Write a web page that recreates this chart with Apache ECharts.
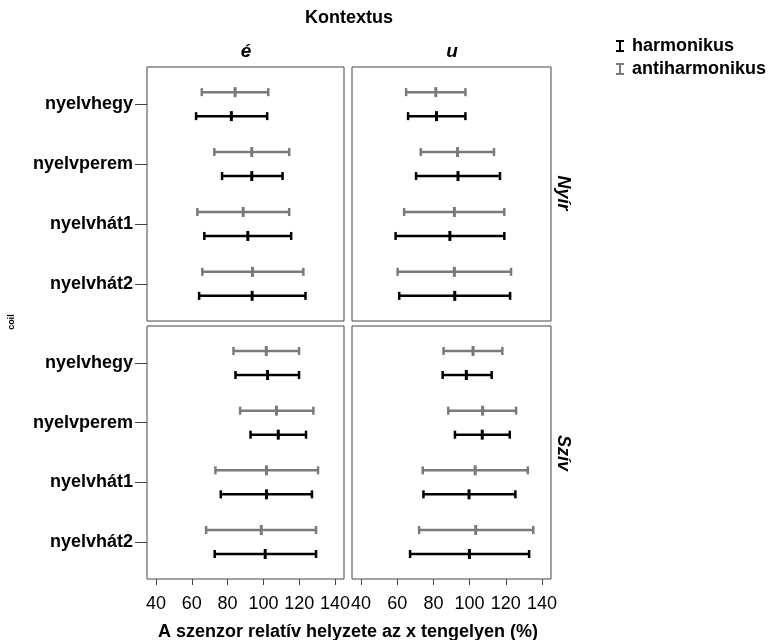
<!DOCTYPE html>
<html>
<head>
<meta charset="utf-8">
<script src="https://cdn.jsdelivr.net/npm/echarts@6/dist/echarts.min.js"></script>
<style>html,body{margin:0;padding:0;background:#fff}#c{width:770px;height:640px}</style>
</head>
<body>
<div id="c"></div>
<script>
const categories = ['nyelvhegy', 'nyelvperem', 'nyelvhát1', 'nyelvhát2'];
const xTicks = [40, 60, 80, 100, 120, 140];
const columns = ['é', 'u'];
const rows = ['Nyír', 'Szív'];

// Nyír, é
const nyirE_harm_mean = [82.1, 93.5, 91.3, 93.7];
const nyirE_harm_low  = [62.4, 76.9, 67.0, 64.1];
const nyirE_harm_high = [102.1, 110.7, 115.5, 123.5];
const nyirE_anti_mean = [84.2, 93.5, 88.7, 93.9];
const nyirE_anti_low  = [65.6, 72.6, 63.1, 65.9];
const nyirE_anti_high = [102.7, 114.4, 114.4, 122.3];
// Nyír, u
const nyirU_harm_mean = [81.7, 93.6, 89.1, 91.8];
const nyirU_harm_low  = [66.0, 70.4, 59.1, 61.1];
const nyirU_harm_high = [97.7, 116.8, 119.2, 122.4];
const nyirU_anti_mean = [81.3, 93.3, 91.6, 91.6];
const nyirU_anti_low  = [64.9, 73.0, 63.8, 60.2];
const nyirU_anti_high = [97.7, 113.5, 119.2, 122.9];
// Szív, é
const szivE_harm_mean = [102.3, 108.3, 101.7, 101.0];
const szivE_harm_low  = [84.4, 92.8, 76.2, 72.8];
const szivE_harm_high = [119.9, 123.8, 127.1, 129.4];
const szivE_anti_mean = [101.6, 107.3, 101.7, 98.8];
const szivE_anti_low  = [83.3, 87.0, 73.2, 68.0];
const szivE_anti_high = [119.9, 127.9, 130.5, 129.4];
// Szív, u
const szivU_harm_mean = [98.2, 107.0, 99.7, 99.9];
const szivU_harm_low  = [85.1, 91.9, 74.5, 67.1];
const szivU_harm_high = [112.2, 122.2, 125.3, 132.9];
const szivU_anti_mean = [101.9, 107.2, 103.1, 103.4];
const szivU_anti_low  = [85.6, 88.2, 74.1, 72.1];
const szivU_anti_high = [118.1, 125.7, 132.2, 135.2];

const panels = [
  { row: 0, col: 0, harm: [nyirE_harm_low, nyirE_harm_mean, nyirE_harm_high], anti: [nyirE_anti_low, nyirE_anti_mean, nyirE_anti_high] },
  { row: 0, col: 1, harm: [nyirU_harm_low, nyirU_harm_mean, nyirU_harm_high], anti: [nyirU_anti_low, nyirU_anti_mean, nyirU_anti_high] },
  { row: 1, col: 0, harm: [szivE_harm_low, szivE_harm_mean, szivE_harm_high], anti: [szivE_anti_low, szivE_anti_mean, szivE_anti_high] },
  { row: 1, col: 1, harm: [szivU_harm_low, szivU_harm_mean, szivU_harm_high], anti: [szivU_anti_low, szivU_anti_mean, szivU_anti_high] }
];

const FONT = '"Liberation Sans", Arial, sans-serif';
const BLACK = '#000000';
const GRAY = '#7a7a7a';
const gridLeft = [147, 352], gridWidth = [197, 199];
const gridTop = [67, 326], gridHeight = [254, 253];

function makeRender(offset, color) {
  return function (params, api) {
    const cat = api.value(0);
    const lo = api.coord([api.value(1), cat]);
    const mid = api.coord([api.value(2), cat]);
    const hi = api.coord([api.value(3), cat]);
    const y = lo[1] + offset;
    const st = { stroke: color, lineWidth: 2.5 };
    return {
      type: 'group',
      children: [
        { type: 'line', shape: { x1: lo[0], y1: y, x2: hi[0], y2: y }, style: st },
        { type: 'line', shape: { x1: lo[0], y1: y - 4, x2: lo[0], y2: y + 4 }, style: st },
        { type: 'line', shape: { x1: hi[0], y1: y - 4, x2: hi[0], y2: y + 4 }, style: st },
        { type: 'line', shape: { x1: mid[0], y1: y - 5, x2: mid[0], y2: y + 5 }, style: { stroke: color, lineWidth: 3 } }
      ]
    };
  };
}

const grids = [], xAxes = [], yAxes = [], series = [];
panels.forEach((p, i) => {
  grids.push({ left: gridLeft[p.col], top: gridTop[p.row], width: gridWidth[p.col], height: gridHeight[p.row],
    show: true, borderColor: '#444', borderWidth: 1, backgroundColor: 'transparent', containLabel: false });
  const bottom = p.row === 1;
  xAxes.push({ type: 'value', gridIndex: i, min: 35, max: 145, position: 'bottom',
    axisLine: { show: false, onZero: false }, splitLine: { show: false },
    axisTick: { show: bottom, customValues: xTicks, length: 6, lineStyle: { color: '#444' } },
    axisLabel: { show: bottom, customValues: xTicks, fontSize: 18, color: BLACK, fontFamily: FONT, margin: 16 } });
  const left = p.col === 0;
  yAxes.push({ type: 'value', gridIndex: i, min: -0.62, max: 3.62, inverse: true, position: 'left',
    axisLine: { show: false, onZero: false }, splitLine: { show: false },
    axisTick: { show: left, customValues: [0, 1, 2, 3], length: 12, lineStyle: { color: '#444' } },
    axisLabel: { show: left, customValues: [0, 1, 2, 3], formatter: v => categories[Math.round(v)] || '',
      fontSize: 18, fontWeight: 'bold', color: BLACK, fontFamily: FONT, margin: 14 } });
  const mk = arr => categories.map((c, k) => [k, arr[0][k], arr[1][k], arr[2][k]]);
  series.push({ type: 'custom', name: 'harmonikus', xAxisIndex: i, yAxisIndex: i,
    itemStyle: { color: BLACK }, encode: { x: [1, 2, 3], y: 0 },
    renderItem: makeRender(12, BLACK), data: mk(p.harm) });
  series.push({ type: 'custom', name: 'antiharmonikus', xAxisIndex: i, yAxisIndex: i,
    itemStyle: { color: GRAY }, encode: { x: [1, 2, 3], y: 0 },
    renderItem: makeRender(-12, GRAY), data: mk(p.anti) });
});

function txt(text, x, y, size, opts) {
  opts = opts || {};
  return { type: 'text', x: x, y: y, rotation: opts.rotation || 0,
    style: { text: text, x: 0, y: 0, align: 'center', verticalAlign: 'middle',
      fontSize: size, fontWeight: 'bold', fontStyle: opts.italic ? 'italic' : 'normal',
      fontFamily: FONT, fill: BLACK } };
}

const chart = echarts.init(document.getElementById('c'));
chart.setOption({
  animation: false,
  backgroundColor: '#ffffff',
  grid: grids, xAxis: xAxes, yAxis: yAxes, series: series,
  legend: {
    data: ['harmonikus', 'antiharmonikus'], orient: 'vertical', left: 611, top: 32,
    itemWidth: 14, itemHeight: 12, itemGap: 5,
    icon: 'path://M0,0H8V2H5V10H8V12H0V10H3V2H0Z',
    textStyle: { fontSize: 18, fontWeight: 'bold', color: BLACK, fontFamily: FONT }
  },
  graphic: [
    txt('Kontextus', 349, 18, 18),
    txt(columns[0], 246, 52, 19, { italic: true }),
    txt(columns[1], 452, 52, 19, { italic: true }),
    txt(rows[0], 563, 193, 18, { italic: true, rotation: -Math.PI / 2 }),
    txt(rows[1], 563, 453, 18, { italic: true, rotation: -Math.PI / 2 }),
    txt('coil', 12, 322, 9, { rotation: Math.PI / 2 }),
    txt('A szenzor relatív helyzete az x tengelyen (%)', 348, 632, 18)
  ]
});
</script>
</body>
</html>
